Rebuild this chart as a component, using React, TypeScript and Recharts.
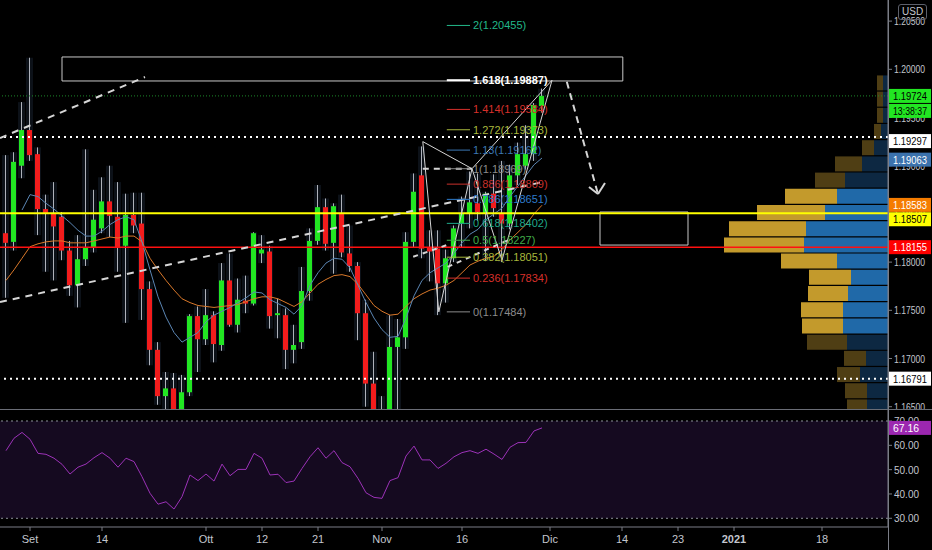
import React from "react";
import {
  ComposedChart,
  Bar,
  Line,
  XAxis,
  YAxis,
  ReferenceLine,
  ReferenceArea,
  Cell,
} from "recharts";

// EUR/USD daily, bar index 0 = 1 Sep 2020 (one step per trading day)
const FIRST_INDEX = -3;

const opens = [
  1.183, 1.1821, 1.19, 1.1937, 1.1912, 1.1855, 1.1851, 1.1847, 1.1812, 1.1776, 1.1803, 1.1815,
  1.1835, 1.1863, 1.1847, 1.1817, 1.1849, 1.184, 1.1772, 1.1709, 1.1661, 1.1669, 1.1631, 1.1665,
  1.1744, 1.172, 1.1745, 1.1714, 1.1781, 1.1735, 1.176, 1.1757, 1.1809, 1.1811, 1.1745, 1.1745,
  1.1709, 1.1717, 1.177, 1.1822, 1.1857, 1.182, 1.1851, 1.1809, 1.1796, 1.1747, 1.1674, 1.1646,
  1.1642, 1.1712, 1.1722, 1.1821, 1.189, 1.1815, 1.1814, 1.1778, 1.1804, 1.184, 1.185, 1.1861,
  1.185, 1.1871, 1.1851, 1.184, 1.189, 1.19, 1.1912, 1.1962,
];
const highs = [
  1.1911, 1.1914, 1.1966, 1.2012, 1.1919, 1.187, 1.1883, 1.1852, 1.1822, 1.1828, 1.1917, 1.1875,
  1.1888, 1.19, 1.1883, 1.1871, 1.1872, 1.1872, 1.178, 1.1717, 1.1686, 1.1685, 1.1683, 1.1746,
  1.1754, 1.1772, 1.1749, 1.1799, 1.1809, 1.1783, 1.1786, 1.1831, 1.1828, 1.1817, 1.1762, 1.1752,
  1.1735, 1.1795, 1.1835, 1.188, 1.1866, 1.1861, 1.187, 1.1838, 1.18, 1.1761, 1.1707, 1.1661,
  1.1745, 1.1741, 1.1831, 1.1892, 1.192, 1.1833, 1.1833, 1.1813, 1.1838, 1.1868, 1.1894, 1.1892,
  1.1873, 1.1891, 1.1905, 1.1901, 1.1924, 1.1942, 1.1965, 1.198,
];
const lows = [
  1.1763, 1.1812, 1.1887, 1.1905, 1.1828, 1.179, 1.1781, 1.1802, 1.1765, 1.1753, 1.1796, 1.181,
  1.183, 1.1826, 1.179, 1.1737, 1.183, 1.174, 1.1693, 1.1652, 1.1627, 1.1612, 1.1621, 1.1661,
  1.1686, 1.1714, 1.1696, 1.1708, 1.1733, 1.1727, 1.1747, 1.1755, 1.1799, 1.1731, 1.1721, 1.1689,
  1.1695, 1.171, 1.176, 1.1818, 1.1812, 1.1788, 1.1805, 1.179, 1.1719, 1.165, 1.164, 1.1622,
  1.1641, 1.1603, 1.171, 1.1815, 1.1804, 1.178, 1.1745, 1.1758, 1.18, 1.1815, 1.1835, 1.1843,
  1.1801, 1.1847, 1.18, 1.1834, 1.188, 1.1896, 1.1905, 1.1955,
];
const closes = [
  1.182, 1.1904, 1.1937, 1.1911, 1.1855, 1.1851, 1.1837, 1.1812, 1.1776, 1.1803, 1.1815, 1.1844,
  1.1863, 1.1848, 1.1815, 1.1849, 1.1838, 1.1772, 1.1709, 1.1661, 1.1669, 1.1631, 1.1665, 1.1744,
  1.172, 1.1745, 1.1715, 1.1781, 1.1735, 1.1761, 1.1757, 1.183, 1.1813, 1.1744, 1.1747, 1.1709,
  1.1714, 1.177, 1.1822, 1.1857, 1.1819, 1.1858, 1.181, 1.1796, 1.1747, 1.1674, 1.1646, 1.1642,
  1.1712, 1.1722, 1.1821, 1.1873, 1.1814, 1.1811, 1.1778, 1.1804, 1.1835, 1.1851, 1.1862, 1.1852,
  1.1871, 1.1856, 1.184, 1.189, 1.1912, 1.1912, 1.1963, 1.19724,
];
const fastMa = [
  null, null, 1.1854, 1.187, 1.1868, 1.1861, 1.1855, 1.1848, 1.1841, 1.1833, 1.1827, 1.1827,
  1.1832, 1.1839, 1.1844, 1.1847, 1.1844, 1.1821, 1.1792, 1.1764, 1.1743, 1.1727, 1.1717, 1.1722,
  1.1727, 1.1738, 1.1745, 1.1749, 1.1753, 1.1758, 1.1763, 1.1769, 1.1768, 1.1761, 1.1757, 1.1753,
  1.1746, 1.1755, 1.1776, 1.1789, 1.1799, 1.1804, 1.1803, 1.1794, 1.1776, 1.1758, 1.1742, 1.173,
  1.1722, 1.1723, 1.1742, 1.1765, 1.1781, 1.1789, 1.1794, 1.1799, 1.1809, 1.182, 1.1829, 1.1834,
  1.1844, 1.185, 1.1856, 1.1868, 1.1879, 1.189, 1.1901, 1.1908,
];
const slowMa = [
  1.1781, 1.1792, 1.1804, 1.1816, 1.1819, 1.1821, 1.1822, 1.1822, 1.182, 1.182, 1.182, 1.1822,
  1.1824, 1.1826, 1.1825, 1.1827, 1.1827, 1.1821, 1.1804, 1.1792, 1.1781, 1.1771, 1.1762, 1.1758,
  1.1755, 1.1754, 1.1753, 1.1754, 1.1755, 1.1756, 1.1759, 1.1762, 1.1764, 1.1764, 1.1762, 1.1758,
  1.1754, 1.1759, 1.1768, 1.1777, 1.1782, 1.1786, 1.1787, 1.1785, 1.1777, 1.1766, 1.1755, 1.1749,
  1.1745, 1.1746, 1.1754, 1.1762, 1.1767, 1.1771, 1.1773, 1.1776, 1.1781, 1.1789, 1.1797, 1.1801,
  1.1804, 1.1806, 1.1813, 1.1823, 1.1831, 1.1839, 1.185, 1.1859,
];
const rsiValues = [
  57.8, 62.9, 65.3, 62.5, 56.7, 56.3, 54.7, 52.2, 48.2, 51.0, 52.3, 54.9, 57.0, 54.7, 51.0, 54.7,
  53.3, 47.1, 40.3, 35.8, 36.8, 33.8, 38.9, 47.8, 45.5, 48.2, 45.3, 52.3, 47.5, 50.1, 50.1, 56.7,
  54.7, 47.8, 48.1, 44.7, 45.3, 50.5, 55.3, 59.0, 54.7, 57.8, 52.9, 51.2, 46.4, 40.5, 38.6, 38.2,
  45.5, 46.7, 55.6, 59.7, 54.0, 54.0, 50.5, 52.6, 55.3, 57.0, 57.8, 56.7, 58.4, 56.4, 54.2, 59.2,
  61.1, 61.2, 65.9, 67.16,
];

// fibonacci extension levels
const fibRatios = ["2", "1.618", "1.414", "1.272", "1.13", "1", "0.886", "0.786", "0.618", "0.5", "0.382", "0.236", "0"];
const fibPrices = [1.20455, 1.19887, 1.19584, 1.19373, 1.19162, 1.18969, 1.18809, 1.18651, 1.18402, 1.18227, 1.18051, 1.17834, 1.17484];
const fibColors = ["#22b88a", "#ffffff", "#d8302b", "#a8b83c", "#3c78b4", "#8c8c8c", "#c9302b", "#2f7ccc", "#1fa88a", "#41ad4a", "#a8b83c", "#d8302b", "#8c8c8c"];

// volume profile (visible range)
const profilePrices = [
  1.19863, 1.19695, 1.19527, 1.19359, 1.19191, 1.19023, 1.18855, 1.18687, 1.18519, 1.18351, 1.18183,
  1.18015, 1.17846, 1.17678, 1.1751, 1.17342, 1.17174, 1.17006, 1.16838, 1.1667, 1.16502,
];
const profileUp = [5, 5, 5, 7, 14, 26, 43, 51, 63, 82, 84, 51, 37, 40, 45, 45, 41, 22, 28, 21, 21];
const profileDown = [6, 6, 6, 7, 12, 27, 30, 52, 68, 77, 80, 56, 42, 40, 42, 41, 40, 22, 23, 22, 20];
const profileValueArea = [false, false, false, false, false, false, false, true, true, true, true, true, true, true, true, true, false, false, false, false, false];

// price-scale tags: value, background, text colour
const tagValues = [1.19724, 1.19297, 1.19063, 1.18583, 1.18507, 1.18155, 1.16791];
const tagColors = ["#22e622", "#ffffff", "#3b72ad", "#f57c00", "#ffff00", "#ff0000", "#ffffff"];
const tagText = ["#000", "#000", "#fff", "#fff", "#000", "#fff", "#000"];
const tagNudge = [0, 4, 0, -1, 6, 0, 0]; // tags pushed apart where they would collide
const COUNTDOWN = "13:38:37";
const RSI_LAST = 67.16;

const timeTicks = [0, 9, 22, 29, 36, 44, 54, 65, 74, 81, 88, 99];
const timeLabels = ["Set", "14", "Ott", "12", "21", "Nov", "16", "Dic", "14", "23", "2021", "18"];
const priceTicks = [1.165, 1.17, 1.175, 1.18, 1.185, 1.19, 1.195, 1.2, 1.205];
const rsiTicks = [30, 40, 50, 60, 70];

const X_DOMAIN = [-3.75, 107.25];
const P_DOMAIN = [1.16466, 1.20719];
const RSI_DOMAIN = [26.42, 74.52];

const GREEN = "#22e622";
const RED = "#f21c1c";
const AXIS = "#7a7d86";
const TEXT = "#c3c6ce";

const candles = opens.map((o, k) => ({
  i: FIRST_INDEX + k,
  open: o,
  high: highs[k],
  low: lows[k],
  close: closes[k],
  range: [lows[k], highs[k]],
  fast: fastMa[k],
  slow: slowMa[k],
  rsi: rsiValues[k],
}));

const profile = profilePrices.map((p, k) => ({
  p,
  up: profileUp[k],
  down: profileDown[k],
  va: profileValueArea[k],
}));

function Candle(props: any) {
  const { x, y, width, height, payload } = props;
  if (x == null || y == null) return null;
  const top = Math.min(y, y + height);
  const h = Math.abs(height);
  const pp = h / (payload.high - payload.low || 1);
  const yOf = (p: number) => top + (payload.high - p) * pp;
  const up = payload.close >= payload.open;
  const bTop = yOf(Math.max(payload.open, payload.close));
  const bBot = yOf(Math.min(payload.open, payload.close));
  const cx = x + width / 2;
  return (
    <g>
      <rect x={cx - 3.5} y={top} width={7} height={h} fill="#0c1118" />
      <line x1={cx} x2={cx} y1={top} y2={top + h} stroke="#aeb2ba" strokeWidth={1} />
      <rect x={x} y={bTop} width={width} height={Math.max(1.5, bBot - bTop)} fill={up ? GREEN : RED} />
    </g>
  );
}

function tag(bg: string, fg: string, text: string, nudge = 0, sub?: string) {
  return (props: any) => {
    const vb = props.viewBox || {};
    const x = (vb.x || 0) + (vb.width || 0) + 1;
    const y = (vb.y || 0) + nudge;
    const len = text.length > 5 ? 34 : 26;
    return (
      <g>
        <rect x={x} y={y - 7} width={42} height={14} fill={bg} />
        <text x={x + 4} y={y + 4} fill={fg} fontSize={11} textLength={len} lengthAdjust="spacingAndGlyphs">
          {text}
        </text>
        {sub ? (
          <g>
            <rect x={x} y={y + 8} width={42} height={14} fill={bg} />
            <text x={x + 4} y={y + 19} fill={fg} fontSize={11} textLength={34} lengthAdjust="spacingAndGlyphs">
              {sub}
            </text>
          </g>
        ) : null}
      </g>
    );
  };
}

function TimeTick(props: any) {
  const { x, y, payload } = props;
  const label = timeLabels[timeTicks.indexOf(payload.value)];
  return (
    <text x={x} y={y + 10} textAnchor="middle" fill={TEXT} fontSize={11} fontWeight={label === "2021" ? 700 : 400}>
      {label}
    </text>
  );
}

function ValueTick(props: any) {
  const { x, y, payload, digits } = props;
  return (
    <text
      x={x}
      y={y + 4}
      textAnchor="start"
      fill={TEXT}
      fontSize={11}
      textLength={digits === 5 ? 31 : 25}
      lengthAdjust="spacingAndGlyphs"
    >
      {Number(payload.value).toFixed(digits)}
    </text>
  );
}

const seg = (x1: number, y1: number, x2: number, y2: number) => [
  { x: x1, y: y1 },
  { x: x2, y: y2 },
];

// harmonic pattern points
const pX = [49.1, 1.1925];
const pA = [51.1, 1.17484];
const pB = [55.25, 1.18969];
const pC = [59.0, 1.1802];
const pD = [65.25, 1.19887];

export default function App() {
  const white = "#d6d6d6";
  return (
    <div
      style={{
        position: "absolute",
        left: 0,
        top: 0,
        width: 932,
        height: 550,
        background: "#000",
        overflow: "hidden",
        fontFamily: "'Liberation Sans', Arial, sans-serif",
      }}
    >
      {/* volume profile, behind price */}
      <div style={{ position: "absolute", left: 0, top: 0 }}>
        <ComposedChart layout="vertical" width={888} height={410} data={profile} margin={{ top: 0, right: 0, bottom: 0, left: 0 }}>
          <XAxis type="number" domain={[0, 888]} reversed hide allowDataOverflow />
          <YAxis type="number" dataKey="p" domain={P_DOMAIN} reversed hide allowDataOverflow />
          <Bar dataKey="up" stackId="v" barSize={15} isAnimationActive={false}>
            {profile.map((d, k) => (
              <Cell key={k} fill={d.va ? "#2069a8" : "#0d2842"} />
            ))}
          </Bar>
          <Bar dataKey="down" stackId="v" barSize={15} isAnimationActive={false}>
            {profile.map((d, k) => (
              <Cell key={k} fill={d.va ? "#c39a2c" : "#4f3e14"} />
            ))}
          </Bar>
        </ComposedChart>
      </div>

      {/* price pane */}
      <div style={{ position: "absolute", left: 0, top: 0 }}>
        <ComposedChart width={932} height={410} data={candles} margin={{ top: 0, right: 0, bottom: 0, left: 0 }}>
          <XAxis type="number" dataKey="i" domain={X_DOMAIN} hide allowDataOverflow />
          <YAxis
            orientation="right"
            type="number"
            domain={P_DOMAIN}
            allowDataOverflow
            ticks={priceTicks}
            interval={0}
            width={44}
            tickSize={4}
            tick={<ValueTick digits={5} />}
            axisLine={{ stroke: AXIS }}
            tickLine={{ stroke: AXIS }}
          />
          <Bar dataKey="range" barSize={5} isAnimationActive={false} shape={Candle} />
          <Line dataKey="slow" stroke="#d9782a" strokeWidth={1} dot={false} activeDot={false} isAnimationActive={false} />
          <Line dataKey="fast" stroke="#5b86b4" strokeWidth={1} dot={false} activeDot={false} isAnimationActive={false} />

          <ReferenceArea x1={4.0} x2={74.1} y1={1.19879} y2={1.20128} fill="none" stroke="#c8c8c8" ifOverflow="visible" />
          <ReferenceArea x1={71.25} x2={82.25} y1={1.18177} y2={1.1852} fill="none" stroke="#c8c8c8" ifOverflow="visible" />

          <ReferenceLine y={1.19297} stroke="#ffffff" strokeWidth={2} strokeDasharray="2 4" />
          <ReferenceLine y={1.16791} stroke="#ffffff" strokeWidth={2} strokeDasharray="2 4" />
          <ReferenceLine y={1.19724} stroke="#1c8a2a" strokeDasharray="1 2" />
          <ReferenceLine y={1.18507} stroke="#ffff00" strokeWidth={2} />
          <ReferenceLine y={1.18155} stroke="#ff1010" strokeWidth={1.5} />

          {/* channel and projection */}
          <ReferenceLine segment={seg(-3.75, 1.19287, 14.375, 1.1992)} stroke={white} strokeWidth={2} strokeDasharray="7 6" ifOverflow="visible" />
          <ReferenceLine segment={seg(-3.75, 1.17586, 64.1, 1.18831)} stroke={white} strokeWidth={2} strokeDasharray="7 6" ifOverflow="visible" />
          <ReferenceLine segment={seg(67.1, 1.19872, 71.0, 1.18706)} stroke={white} strokeWidth={2} strokeDasharray="7 5" ifOverflow="visible" />
          <ReferenceLine segment={seg(69.875, 1.18779, 71.0, 1.18706)} stroke={white} strokeWidth={2} ifOverflow="visible" />
          <ReferenceLine segment={seg(71.875, 1.1882, 71.0, 1.18706)} stroke={white} strokeWidth={2} ifOverflow="visible" />

          {/* XABCD pattern */}
          <ReferenceLine segment={seg(pX[0], pX[1], pA[0], pA[1])} stroke={white} ifOverflow="visible" />
          <ReferenceLine segment={seg(pA[0], pA[1], pB[0], pB[1])} stroke={white} ifOverflow="visible" />
          <ReferenceLine segment={seg(pB[0], pB[1], pC[0], pC[1])} stroke={white} ifOverflow="visible" />
          <ReferenceLine segment={seg(pC[0], pC[1], pD[0], pD[1])} stroke={white} ifOverflow="visible" />
          <ReferenceLine segment={seg(pX[0], pX[1], pB[0], pB[1])} stroke={white} ifOverflow="visible" />
          <ReferenceLine segment={seg(pB[0], pB[1], pD[0], pD[1])} stroke={white} ifOverflow="visible" />
          <ReferenceLine segment={seg(pX[0], 1.18969, pB[0], 1.18969)} stroke={white} strokeWidth={2} strokeDasharray="6 5" ifOverflow="visible" />
          <ReferenceLine segment={seg(52.2, 1.1795, 59.8, 1.1823)} stroke={white} strokeWidth={2} strokeDasharray="5 5" ifOverflow="visible" />
          <ReferenceLine segment={seg(47.9, 1.18055, 52.2, 1.1818)} stroke={white} strokeWidth={2} strokeDasharray="5 5" ifOverflow="visible" />

          {fibPrices.map((p, k) => (
            <ReferenceLine
              key={"fib" + k}
              segment={seg(52.1, p, 55.0, p)}
              stroke={fibColors[k]}
              strokeWidth={k === 1 ? 2 : 1}
              ifOverflow="visible"
              label={{
                value: `${fibRatios[k]}(${p.toFixed(5)})`,
                position: "right",
                offset: 3,
                fill: fibColors[k],
                fontSize: 11,
                fontWeight: k === 1 ? 700 : 400,
              }}
            />
          ))}
        </ComposedChart>
      </div>

      {/* price-scale tags, drawn above the axis labels */}
      <div style={{ position: "absolute", left: 0, top: 0 }}>
        <ComposedChart width={932} height={410} data={candles} margin={{ top: 0, right: 44, bottom: 0, left: 0 }}>
          <XAxis type="number" dataKey="i" domain={X_DOMAIN} hide allowDataOverflow />
          <YAxis type="number" domain={P_DOMAIN} hide allowDataOverflow />
          {tagValues.map((v, k) => (
            <ReferenceLine
              key={"tag" + k}
              y={v}
              stroke="transparent"
              label={tag(tagColors[k], tagText[k], v.toFixed(5), tagNudge[k], k === 0 ? COUNTDOWN : undefined)}
            />
          ))}
        </ComposedChart>
      </div>

      {/* RSI pane + time axis */}
      <div style={{ position: "absolute", left: 0, top: 410 }}>
        <ComposedChart width={932} height={140} data={candles} margin={{ top: 0, right: 0, bottom: 0, left: 0 }}>
          <XAxis
            type="number"
            dataKey="i"
            domain={X_DOMAIN}
            allowDataOverflow
            ticks={timeTicks}
            interval={0}
            height={23}
            tickSize={4}
            tick={<TimeTick />}
            axisLine={{ stroke: AXIS }}
            tickLine={{ stroke: AXIS }}
          />
          <YAxis
            orientation="right"
            type="number"
            domain={RSI_DOMAIN}
            allowDataOverflow
            ticks={rsiTicks}
            interval={0}
            width={44}
            tickSize={4}
            tick={<ValueTick digits={2} />}
            axisLine={{ stroke: AXIS }}
            tickLine={{ stroke: AXIS }}
          />
          <ReferenceArea y1={30} y2={70} fill="#150a20" fillOpacity={1} stroke="none" />
          <ReferenceLine y={70} stroke="#8d9099" strokeDasharray="2 3" />
          <ReferenceLine y={30} stroke="#8d9099" strokeDasharray="2 3" />
          <Line dataKey="rsi" stroke="#9c32b8" strokeWidth={1} dot={false} activeDot={false} isAnimationActive={false} />
        </ComposedChart>
      </div>
      <div style={{ position: "absolute", left: 0, top: 410 }}>
        <ComposedChart width={932} height={140} data={candles} margin={{ top: 0, right: 44, bottom: 23, left: 0 }}>
          <XAxis type="number" dataKey="i" domain={X_DOMAIN} hide allowDataOverflow />
          <YAxis type="number" domain={RSI_DOMAIN} hide allowDataOverflow />
          <ReferenceLine y={RSI_LAST} stroke="transparent" label={tag("#9c27b0", "#fff", RSI_LAST.toFixed(2))} />
        </ComposedChart>
      </div>

      {/* pane separators */}
      <div style={{ position: "absolute", left: 0, top: 409, width: 932, height: 1, background: "#6a6d76" }} />
      <div style={{ position: "absolute", left: 888, top: 0, width: 1, height: 550, background: AXIS }} />
      <div
        style={{
          position: "absolute",
          left: 898,
          top: 4,
          padding: "1px 3px",
          border: "1px solid #5d606b",
          borderRadius: 3,
          color: TEXT,
          fontSize: 10,
          lineHeight: "12px",
        }}
      >
        USD
      </div>
    </div>
  );
}
